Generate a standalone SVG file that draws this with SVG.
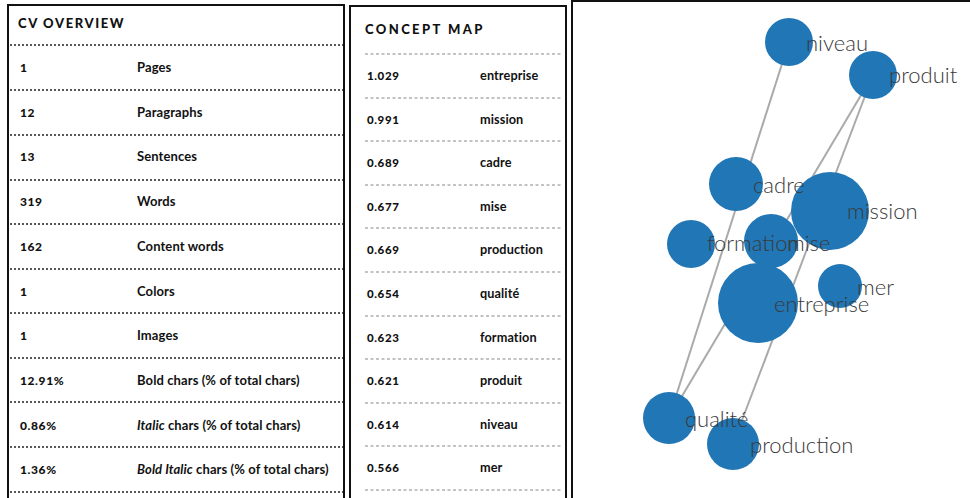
<svg xmlns="http://www.w3.org/2000/svg" width="970" height="498" viewBox="0 0 970 498">
<style>
.panel{fill:#fff;stroke:#111;stroke-width:2}
.title{font-family:Lato,"Liberation Sans",sans-serif;font-weight:900;font-size:13px;letter-spacing:1.6px;fill:#111}
.val{font-family:Lato,"Liberation Sans",sans-serif;font-weight:900;font-size:12px;letter-spacing:0.6px;fill:#111}
.valm{font-family:Lato,"Liberation Sans",sans-serif;font-weight:900;font-size:11.5px;letter-spacing:0.6px;fill:#111}
.lab{font-family:Lato,"Liberation Sans",sans-serif;font-weight:700;font-size:13px;letter-spacing:0.1px;fill:#111}
.labm{font-family:Lato,"Liberation Sans",sans-serif;font-weight:700;font-size:12.7px;letter-spacing:0.1px;fill:#111}
.sepL{stroke:#222;stroke-width:1.3;stroke-dasharray:2 2}
.sepM{stroke:#888;stroke-width:1.2;stroke-dasharray:3 2.5}
.edge{stroke:#aaa;stroke-width:2;fill:none}
.node{fill:#2176b5}
.nl{font-family:Lato,"Liberation Sans",sans-serif;font-weight:300;font-size:22px;fill:#3a3a3a}
</style>
<rect width="970" height="498" fill="#fff"/>
<g id="cv-overview">
<rect class="panel" x="8" y="5" width="336" height="500"/>
<text class="title" x="18" y="28">CV OVERVIEW</text>
<g>
<line class="sepL" x1="10" y1="45" x2="343" y2="45"/>
<line class="sepL" x1="10" y1="90" x2="343" y2="90"/>
<line class="sepL" x1="10" y1="135" x2="343" y2="135"/>
<line class="sepL" x1="10" y1="180" x2="343" y2="180"/>
<line class="sepL" x1="10" y1="224" x2="343" y2="224"/>
<line class="sepL" x1="10" y1="269" x2="343" y2="269"/>
<line class="sepL" x1="10" y1="313" x2="343" y2="313"/>
<line class="sepL" x1="10" y1="358" x2="343" y2="358"/>
<line class="sepL" x1="10" y1="402" x2="343" y2="402"/>
<line class="sepL" x1="10" y1="447" x2="343" y2="447"/>
<line class="sepL" x1="10" y1="492" x2="343" y2="492"/>
</g>
<text class="val" x="20" y="72">1</text><text class="lab" x="137" y="72">Pages</text>
<text class="val" x="20" y="117">12</text><text class="lab" x="137" y="117">Paragraphs</text>
<text class="val" x="20" y="161">13</text><text class="lab" x="137" y="161">Sentences</text>
<text class="val" x="20" y="206">319</text><text class="lab" x="137" y="206">Words</text>
<text class="val" x="20" y="251">162</text><text class="lab" x="137" y="251">Content words</text>
<text class="val" x="20" y="296">1</text><text class="lab" x="137" y="296">Colors</text>
<text class="val" x="20" y="340">1</text><text class="lab" x="137" y="340">Images</text>
<text class="val" x="20" y="385">12.91%</text><text class="lab" x="137" y="385">Bold chars (% of total chars)</text>
<text class="val" x="20" y="430">0.86%</text><text class="lab" x="137" y="430"><tspan font-style="italic">Italic</tspan> chars (% of total chars)</text>
<text class="val" x="20" y="474">1.36%</text><text class="lab" x="137" y="474"><tspan font-style="italic">Bold Italic</tspan> chars (% of total chars)</text>
</g>
<g id="concept-map">
<rect class="panel" x="350" y="6" width="216" height="500"/>
<text class="title" x="365" y="34" style="letter-spacing:2.4px">CONCEPT MAP</text>
<g>
<line class="sepM" x1="365" y1="54" x2="562" y2="54"/>
<line class="sepM" x1="365" y1="98" x2="562" y2="98"/>
<line class="sepM" x1="365" y1="141" x2="562" y2="141"/>
<line class="sepM" x1="365" y1="185" x2="562" y2="185"/>
<line class="sepM" x1="365" y1="228" x2="562" y2="228"/>
<line class="sepM" x1="365" y1="272" x2="562" y2="272"/>
<line class="sepM" x1="365" y1="316" x2="562" y2="316"/>
<line class="sepM" x1="365" y1="359" x2="562" y2="359"/>
<line class="sepM" x1="365" y1="403" x2="562" y2="403"/>
<line class="sepM" x1="365" y1="446" x2="562" y2="446"/>
<line class="sepM" x1="365" y1="490" x2="562" y2="490"/>
</g>
<text class="valm" x="367" y="80">1.029</text><text class="labm" x="480" y="80">entreprise</text>
<text class="valm" x="367" y="124">0.991</text><text class="labm" x="480" y="124">mission</text>
<text class="valm" x="367" y="167">0.689</text><text class="labm" x="480" y="167">cadre</text>
<text class="valm" x="367" y="211">0.677</text><text class="labm" x="480" y="211">mise</text>
<text class="valm" x="367" y="254">0.669</text><text class="labm" x="480" y="254">production</text>
<text class="valm" x="367" y="298">0.654</text><text class="labm" x="480" y="298">qualité</text>
<text class="valm" x="367" y="342">0.623</text><text class="labm" x="480" y="342">formation</text>
<text class="valm" x="367" y="385">0.621</text><text class="labm" x="480" y="385">produit</text>
<text class="valm" x="367" y="429">0.614</text><text class="labm" x="480" y="429">niveau</text>
<text class="valm" x="367" y="472">0.566</text><text class="labm" x="480" y="472">mer</text>
</g>
<rect class="panel" x="572" y="1" width="410" height="510"/>
<g id="connectors">
<line class="edge" x1="789" y1="42" x2="669" y2="418"/>
<line class="edge" x1="873" y1="75" x2="669" y2="418"/>
<line class="edge" x1="873" y1="75" x2="733" y2="444"/>
</g>
<g id="node-niveau"><circle class="node" cx="789" cy="42" r="24"/></g>
<g id="node-produit"><circle class="node" cx="873" cy="75" r="24"/></g>
<g id="node-cadre"><circle class="node" cx="736" cy="184" r="27"/></g>
<g id="node-mission"><circle class="node" cx="830" cy="211" r="39"/></g>
<g id="node-formation"><circle class="node" cx="691" cy="244" r="24"/></g>
<g id="node-mise"><circle class="node" cx="771" cy="241" r="27"/></g>
<g id="node-entreprise"><circle class="node" cx="758" cy="303" r="40"/></g>
<g id="node-mer"><circle class="node" cx="840" cy="286" r="22"/></g>
<g id="node-qualite"><circle class="node" cx="669" cy="418" r="26"/></g>
<g id="node-production"><circle class="node" cx="733" cy="444" r="26"/></g>
<g id="node-labels">
<text class="nl" x="806" y="51">niveau</text>
<text class="nl" x="889" y="83">produit</text>
<text class="nl" x="753" y="193">cadre</text>
<text class="nl" x="847" y="219">mission</text>
<text class="nl" x="707" y="251">formation</text>
<text class="nl" x="787" y="251">mise</text>
<text class="nl" x="857" y="295">mer</text>
<text class="nl" x="774" y="312">entreprise</text>
<text class="nl" x="685" y="427">qualité</text>
<text class="nl" x="750" y="453">production</text>
</g>
</svg>
